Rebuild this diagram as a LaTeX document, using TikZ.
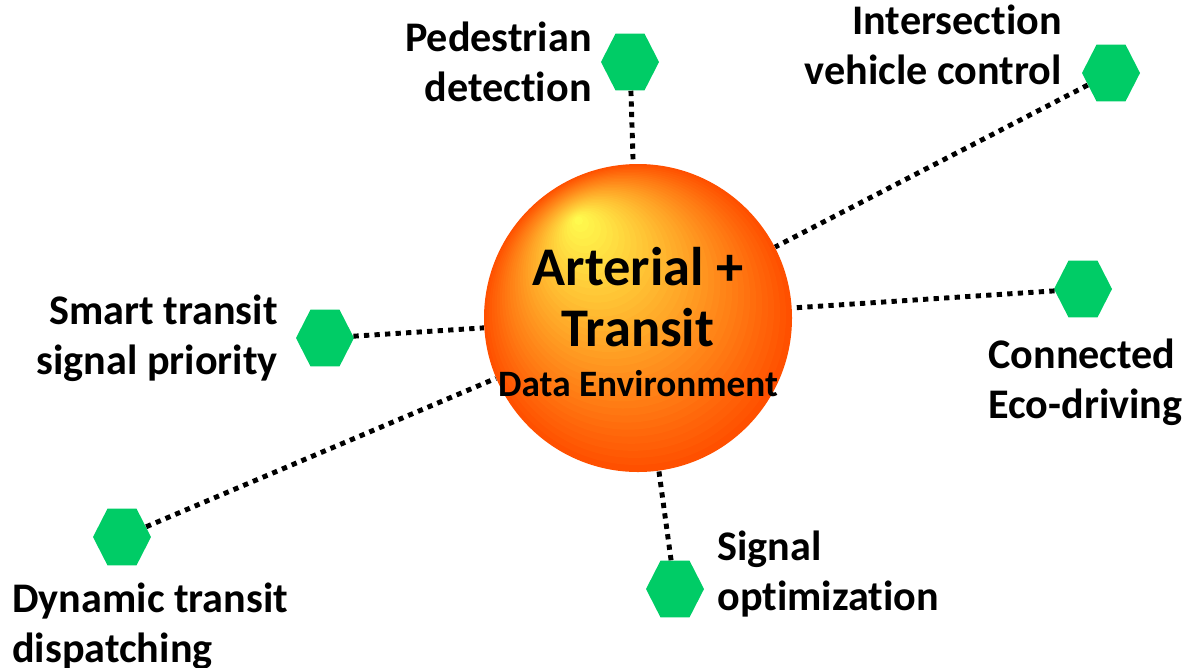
\documentclass[tikz,border=0pt]{standalone}
\usepackage{fontspec}
\setmainfont{Carlito}[Ligatures=NoCommon]
\usepackage{tikz}
\usetikzlibrary{shapes.geometric,calc}
\definecolor{hexgreen}{RGB}{0,204,102}
\definecolor{sphedge}{RGB}{255,80,0}
\definecolor{sphcore}{RGB}{255,255,80}

\begin{document}
\begin{tikzpicture}[x=0.02cm,y=-0.02cm,
	hexa/.style={regular polygon,regular polygon sides=6,fill=hexgreen,minimum size=1.16cm,inner sep=0pt,yscale=1.13},
	link/.style={line width=2.8pt,dash pattern=on 3pt off 3pt},
	lbl/.style={font=\fontsize{24}{28.5}\selectfont\bfseries,inner sep=0pt},
	ball/.style={circle,minimum size=6.16cm,inner sep=0pt}]
			\useasboundingbox (0,0) rectangle (1185,667);
			
			\node[hexa] (h1) at (630,62) {};
			\node[hexa] (h2) at (1111,73) {};
			\node[hexa] (h3) at (1083,289) {};
			\node[hexa] (h4) at (675,589) {};
			\node[hexa] (h5) at (122,537) {};
			\node[hexa] (h6) at (325,338) {};
			\node[ball] (env) at (638,318) {};
			\coordinate (glow) at (577,218);
			
			\draw[link] (h1) -- (env);
			\draw[link] (h2) -- (env);
			\draw[link] (h3) -- (env);
			\draw[link] (h4) -- (env);
			\draw[link] (h5) -- (env);
			\draw[link] (h6) -- (env);
			
			\foreach \i in {0,...,35}{
				\pgfmathsetmacro\t{\i/36}
				\pgfmathsetmacro\p{100*\t}
				\fill[sphcore!\p!sphedge] ($(env.center)!\t!(glow)$) circle ({154*(1-\t)});
			}
			\node[font=\fontsize{31}{35}\selectfont\bfseries,align=center,inner sep=0pt] (title) at (638,322)
				{Arterial +\\Transit\\[-6.7pt]{\fontsize{21.2}{25}\selectfont Data Environment}};
			
			\node[lbl,align=right,anchor=east] (l1) at (592,62) {Pedestrian\\detection};
			\node[lbl,align=right,anchor=east] (l2) at (1062,45) {Intersection\\vehicle control};
			\node[lbl,align=left,anchor=west] (l3) at (988,382) {Connected\\Eco-driving};
			\node[lbl,align=left,anchor=west] (l4) at (717,574) {Signal\\optimization};
			\node[lbl,align=left,anchor=west] (l5) at (12,626) {Dynamic transit\\dispatching};
			\node[lbl,align=right,anchor=east] (l6) at (278,338) {Smart transit\\signal priority};
		\end{tikzpicture}
\end{document}
